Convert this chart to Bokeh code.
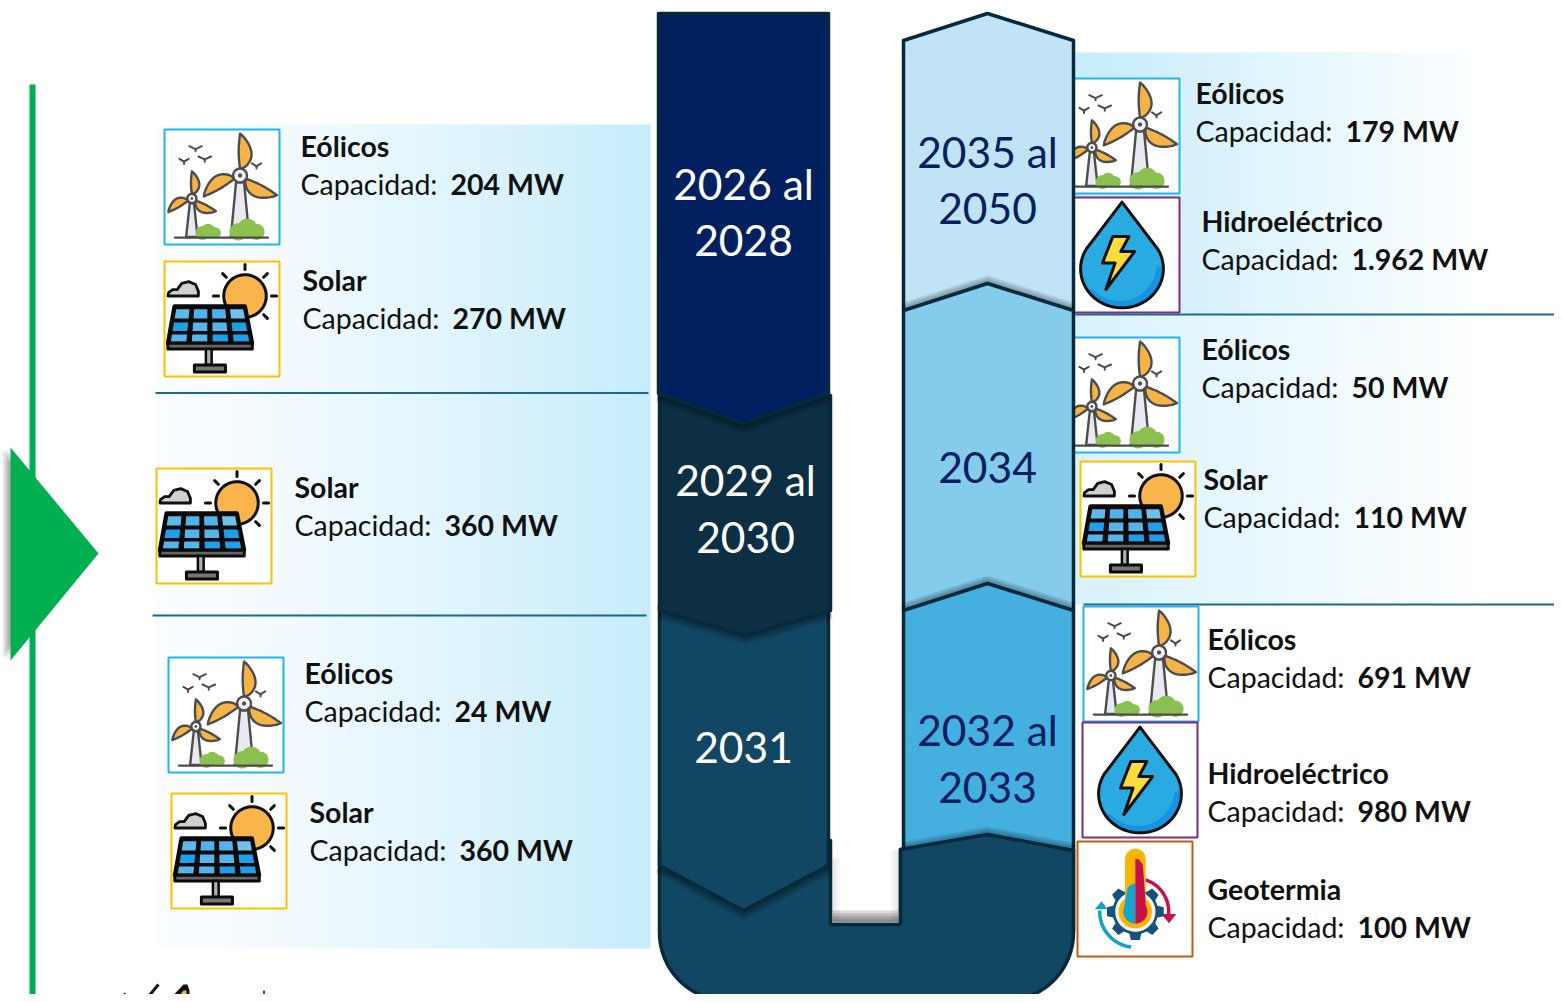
import numpy as np
from bokeh.plotting import figure
from bokeh.models import Range1d
from bokeh.core.properties import value
from bokeh.embed import file_html
from bokeh.resources import INLINE

# ---- content -------------------------------------------------------------
left_names = ["Eólicos", "Solar", "Solar", "Eólicos", "Solar"]
left_caps = [204, 270, 360, 24, 360]
right_names = ["Eólicos", "Hidroeléctrico", "Eólicos", "Solar", "Eólicos", "Hidroeléctrico", "Geotermia"]
right_caps = ["179", "1.962", "50", "110", "691", "980", "100"]
left_periods = [["2026 al", "2028"], ["2029 al", "2030"], ["2031"]]
right_periods = [["2035 al", "2050"], ["2034"], ["2032 al", "2033"]]

# ---- layout --------------------------------------------------------------
left_text_pos = [(300, 147), (302, 281), (294, 488), (304, 674), (309, 813)]
right_text_pos = [(1195, 94), (1201, 222), (1201, 350), (1203, 480), (1207, 640), (1207, 774), (1207, 890)]
left_year_pos = [(743, [184, 241]), (745, [480, 538]), (743, [748])]
right_year_pos = [(987, [152, 209]), (987, [468]), (987, [730, 788])]

C_EDGE = "#06293c"
C_BOTTOM = "#124763"
p = figure(width=1554, height=994, x_range=Range1d(0, 1554), y_range=Range1d(994, 0),
           output_backend="svg", toolbar_location=None, min_border=0,
           background_fill_color="white", border_fill_color="white", outline_line_color=None)
p.axis.visible = False
p.grid.visible = False


def poly(x, y, fill, line=None, lw=1.0, alpha=1.0):
    p.patch(list(x), list(y), fill_color=fill, fill_alpha=alpha, line_color=line, line_width=lw,
            line_join="round")


def seg(x, y, color, lw=1.0, alpha=1.0, cap="round"):
    p.line(list(x), list(y), line_color=color, line_width=lw, line_alpha=alpha, line_cap=cap, line_join="round")


def mix(a, b, t):
    a = np.array([int(a[i:i + 2], 16) for i in (1, 3, 5)], float)
    b = np.array([int(b[i:i + 2], 16) for i in (1, 3, 5)], float)
    c = a + (b - a) * t
    return "#%02x%02x%02x" % tuple(int(round(v)) for v in c)


def gradient(x0, x1, y0, y1, c0, c1, power=1.0):
    n = int((x1 - x0) / 4)
    xs = np.linspace(x0, x1, n + 1)
    cols = [mix(c0, c1, ((i + .5) / n) ** power) for i in range(n)]
    p.quad(left=xs[:-1], right=np.minimum(xs[1:] + 1, x1), top=[y0] * n, bottom=[y1] * n,
           fill_color=cols, line_color=None)


def shadow(x, y, reach=16):
    for w in np.linspace(reach, 3, 6):
        seg(x, y, "#000000", lw=float(w), alpha=0.07, cap="butt")


def mapper(bx, by, w, h):
    return (lambda u: bx + np.asarray(u, float) * w / 100.0), (lambda v: by + np.asarray(v, float) * h / 100.0)


def disc(cu, cv, r, a0=0, a1=360, n=48):
    t = np.radians(np.linspace(a0, a1, n))
    return cu + r * np.cos(t), cv + r * np.sin(t)


def box(bx, by, w, h, color):
    p.quad(left=[bx], right=[bx + w], top=[by], bottom=[by + h], fill_color="white",
           line_color=color, line_width=2)


def blade(X, Y, hu, hv, ang, r0, L, W):
    d = np.array([np.cos(np.radians(ang)), np.sin(np.radians(ang))])
    n = np.array([-d[1], d[0]])
    t = np.linspace(0, 1, 16)
    a = W * np.sin(np.pi * t ** 0.8) ** 0.8
    b = -0.12 * W * np.sin(np.pi * t)
    u1 = hu + d[0] * (r0 + L * t) + n[0] * a
    v1 = hv + d[1] * (r0 + L * t) + n[1] * a
    u2 = hu + d[0] * (r0 + L * t[::-1]) + n[0] * b[::-1]
    v2 = hv + d[1] * (r0 + L * t[::-1]) + n[1] * b[::-1]
    poly(X(np.r_[u1, u2]), Y(np.r_[v1, v2]), "#f5b445", "#4d4d4d", 2.4)


def turbine(X, Y, hu, hv, L, W, rh, tw0, tw1, base):
    poly(X([hu - tw0, hu + tw0, hu + tw1, hu - tw1]), Y([hv + rh, hv + rh, base, base]), "#e9e9f2", "#4d4d4d", 2.4)
    for a in (-90, 150, 28):
        blade(X, Y, hu, hv, a, rh * .9, L, W)
    u, v = disc(hu, hv, rh)
    poly(X(u), Y(v), "#f1f1f6", "#4d4d4d", 2.4)
    u, v = disc(hu, hv, rh * .3)
    poly(X(u), Y(v), "#4d4d4d")


def icon_wind(bx, by, w=115, h=115, color="#1fb5ee"):
    box(bx, by, w, h, color)
    X, Y = mapper(bx, by, w, h)
    turbine(X, Y, 23.8, 60, 20, 6.5, 4, 1.8, 5, 93.5)
    turbine(X, Y, 65.7, 40, 31, 10, 6, 3.5, 8, 93.5)
    for cu, cv, r in ((33, 90, 6), (38, 88, 6), (44, 90, 5), (64, 89, 7.5), (72, 86, 8.5), (80, 89, 7)):
        u, v = disc(cu, cv, r)
        poly(X(u), Y(v), "#8cc152")
    seg(X([9, 90]), Y([94, 94]), "#4d4d4d", 2.2)
    for cu, cv, s in ((27, 16, 5.5), (35, 25, 5.5), (17, 27, 4), (80, 31, 4)):
        seg(X([cu - s, cu, cu + s]), Y([cv - 1.5, cv + 1, cv - 1.5]), "#4d4d4d", 2)
        seg(X([cu, cu]), Y([cv + 1, cv + 3]), "#4d4d4d", 2)


def icon_solar(bx, by, w=115, h=115, color="#ffc000"):
    box(bx, by, w, h, color)
    X, Y = mapper(bx, by, w, h)
    for a in (-90, -45, 0, 45, 180, -135):
        t = np.radians(a)
        seg(X([70 + 23 * np.cos(t), 70 + 27.5 * np.cos(t)]), Y([30 + 23 * np.sin(t), 30 + 27.5 * np.sin(t)]), "#111111", 3)
    u, v = disc(70, 30, 18.5)
    poly(X(u), Y(v), "#f9b54c", "#111111", 3)
    cu = [3, 3.5, 7, 11, 15, 21, 27, 29.5, 29.5, 3]
    cv = [30, 27, 24.5, 24.5, 19, 17.5, 20, 26, 30, 30]
    poly(X(cu), Y(cv), "#d0d0d0", "#111111", 2.8)
    poly(X([8.6, 70, 76.3, 2.9]), Y([39, 39, 71, 71]), "#0a0a0a", "#0a0a0a", 4)
    cols = [["#5fb8ea", "#4fb2ea", "#4fb2ea", "#6fc0ea"],
            ["#1f9fe9", "#55b5ea", "#55b5ea", "#1f9fe9"],
            ["#55b5ea", "#55b5ea", "#1f9fe9", "#1f9fe9"]]
    rows_v = [(41.5, 49.5), (53, 60.5), (63.5, 69.5)]
    for r, (v0, v1) in enumerate(rows_v):
        f0 = (v0 - 39) / 32.0
        f1 = (v1 - 39) / 32.0
        for c in range(4):
            l0, r0 = 8.6 - 5.7 * f0, 70 + 6.3 * f0
            l1, r1 = 8.6 - 5.7 * f1, 70 + 6.3 * f1
            a0, a1 = (c + .13) / 4, (c + .87) / 4
            poly(X([l0 + (r0 - l0) * a0, l0 + (r0 - l0) * a1, l1 + (r1 - l1) * a1, l1 + (r1 - l1) * a0]),
                 Y([v0, v0, v1, v1]), cols[r][c])
    poly(X([2.9, 76.3, 76.3, 2.9]), Y([71, 71, 76, 76]), "#666666", "#0a0a0a", 3)
    poly(X([36, 41, 41, 36]), Y([76, 76, 90, 90]), "#b0b0b0", "#0a0a0a", 2.5)
    poly(X([26, 53, 53, 26]), Y([90, 90, 96, 96]), "#777777", "#0a0a0a", 3)


def icon_drop(bx, by, w=115, h=115, color="#7b2c7f"):
    box(bx, by, w, h, color)
    X, Y = mapper(bx, by, w, h)
    cu, cv = 50, 62
    ru, rv = 36, 34
    t = np.radians(np.linspace(-30, 210, 50))
    u = np.r_[50, cu + ru * np.cos(t), 50]
    v = np.r_[4, cv + rv * np.sin(t), 4]
    poly(X(u), Y(v), "#29abe2")
    t2 = np.radians(np.linspace(-5, 150, 30))
    t3 = np.radians(np.linspace(135, 5, 30))
    poly(X(np.r_[cu + ru * np.cos(t2), cu - 2 + (ru - 4) * np.cos(t3)]),
         Y(np.r_[cv + rv * np.sin(t2), cv - 4 + (rv - 2) * np.sin(t3)]), "#1793e3")
    seg(X(u), Y(v), "#111111", 3)
    bu = [42, 56, 49, 61, 36, 44, 33]
    bv = [34, 34, 47, 47, 80, 57, 57]
    poly(X(bu), Y(bv), "#ffdb3b", "#111111", 3)


def icon_geo(bx, by, w=115, h=115, color="#c55a11"):
    box(bx, by, w, h, color)
    X, Y = mapper(bx, by, w, h)
    cu, cv = 50.3, 61
    u, v = disc(cu, cv, 29, -72, 8, 20)
    seg(X(u), Y(v), "#c8104e", 3.5, cap="butt")
    poly(X([73, 86, 79.5]), Y([63, 63, 71]), "#c8104e")
    u, v = disc(cu, cv, 31, 97, 182, 20)
    seg(X(u), Y(v), "#15a0c8", 3.5, cap="butt")
    poly(X([15, 26, 21]), Y([59, 59, 52]), "#15a0c8")
    n = 8
    ang, rad = [], []
    for i in range(n):
        a = 360.0 * i / n
        ang += [a - 15, a - 9, a + 9, a + 15]
        rad += [20, 25, 25, 20]
    ang = np.radians(ang)
    rad = np.array(rad)
    poly(X(cu + rad * np.cos(ang)), Y(cv + rad * np.sin(ang)), "#17527a")
    u, v = disc(cu, cv, 17.5)
    poly(X(u), Y(v), "#f2f2f2")
    u, v = disc(cu, cv, 14.5)
    poly(X(u), Y(v), "#ffb400")
    t = np.radians(np.linspace(180, 360, 20))
    poly(X(np.r_[cu - 9, cu + 9 * np.cos(t), cu + 9]), Y(np.r_[58, 15.3 + 9 * np.sin(t), 58]), "#ffb400")
    u, v = disc(cu, cv, 10.5, 90, 200, 14)
    u2, v2 = disc(cu, 44, 7.5, 180, 270, 10)
    poly(X(np.r_[cu, u, u2, cu]), Y(np.r_[cv + 10.5, v, v2, cv + 10.5]), "#15a6cf")
    u, v = disc(cu, cv, 10.5, -30, 90, 14)
    poly(X(np.r_[cu, cu, cu + 3, cu + 6.5, u, cu]), Y(np.r_[cv + 10.5, 15, 15.5, 20, v, cv + 10.5]), "#c8104e")


# ---- backgrounds ---------------------------------------------------------
gradient(155, 650, 124, 948, "#fbfdff", "#c6ecfb", 1.3)
gradient(1075, 1490, 52, 313, "#c6ecfb", "#ffffff")
gradient(1075, 1490, 313, 604, "#d8f2fc", "#ffffff")

# ---- green bar and separators --------------------------------------------
p.quad(left=[29], right=[35], top=[84], bottom=[1002], fill_color="#00b050", line_color=None)
for x0, x1, y in ((155, 648, 392.5), (152, 646, 615), (1075, 1562, 314), (1083, 1562, 604)):
    seg([x0, x1], [y, y], "#1b6a8c", 2, cap="butt")

# ---- icons ---------------------------------------------------------------
icon_wind(164, 129)
icon_solar(164, 261)
icon_solar(156, 468)
icon_wind(168, 657)
icon_solar(171, 793)
icon_wind(1064, 78)
icon_drop(1064, 197)
icon_wind(1064, 337)
icon_solar(1080, 461)
icon_wind(1083, 606)
icon_drop(1082, 722)
icon_geo(1077, 841)

# ---- row texts -----------------------------------------------------------
FONT = value("Lato")
FS = "28.5px"


def rows(names, caps, pos):
    xs = [a for a, _ in pos]
    ys = [b for _, b in pos]
    p.text(xs, [y - 2 for y in ys], text=names, text_font=FONT, text_font_size=FS, text_font_style="bold",
           text_color="#111111", text_baseline="alphabetic")
    p.text(xs, [y + 36.5 for y in ys], text=["Capacidad:"] * len(xs), text_font=FONT, text_font_size=FS,
           text_color="#111111", text_baseline="alphabetic")
    p.text([x + 150 for x in xs], [y + 36.5 for y in ys], text=[f"{c} MW" for c in caps], text_font=FONT,
           text_font_size=FS, text_font_style="bold", text_color="#111111", text_baseline="alphabetic")


rows(left_names, left_caps, left_text_pos)
rows(right_names, right_caps, right_text_pos)

# ---- ribbon (bottom first) -----------------------------------------------
t1 = np.radians(np.linspace(180, 90, 24))
t2 = np.radians(np.linspace(90, 0, 24))
R = 68
ux = np.r_[659, 659 + R + R * np.cos(t1), 1073 - R + R * np.cos(t2), 1073, 987, 900, 900, 830, 830]
uy = np.r_[840, 1000 - R + R * np.sin(t1), 1000 - R + R * np.sin(t2), 850, 834, 849, 924, 924, 840]
poly(ux, uy, C_BOTTOM, C_EDGE, 3.5)
for w in (12, 9, 6, 3):
    seg([832, 898], [922 - w / 2, 922 - w / 2], "#000000", w, 0.14, "butt")
for w in (8, 5, 2):
    seg([898 - w / 2, 898 - w / 2], [850, 920], "#000000", w, 0.03, "butt")
    seg([832 + w / 2, 832 + w / 2], [858, 920], "#000000", w, 0.03, "butt")

# left column
segs_left = [
    ([659, 828, 828, 743, 659], [605, 605, 865, 910, 865], C_BOTTOM),
    ([659, 830, 830, 745, 659], [395, 395, 610, 635, 610], "#0c2f44"),
    ([658, 828, 828, 743, 658], [13, 13, 393, 423, 393], "#002060"),
]
for x, y, c in segs_left:
    shadow(x[2:], y[2:], 18)
    poly(x, y, c, C_EDGE, 3.5)

# right column, upper segments below, lower segments on top
segs_right = [
    ([903, 987, 1073, 1073, 903], [40, 13, 40, 310, 310], "#c0e4f5", False),
    ([903, 987, 1073, 1073, 903], [310, 283, 310, 610, 610], "#84cbec", True),
    ([903, 987, 1073, 1073, 903], [610, 583, 610, 850, 850], "#45afe0", True),
]
for x, y, c, cast in segs_right:
    if cast:
        shadow(x[:3], y[:3], 16)
    poly(x, y, c, C_EDGE, 3.5)
shadow([903, 987, 1073], [849, 834, 850], 16)
poly([900, 987, 1073, 1073, 900], [849, 834, 850, 925, 925], C_BOTTOM, None)
seg([900, 987, 1073], [849, 834, 850], C_EDGE, 3.5)
seg([1073, 1073], [850, 930], C_EDGE, 3.5, cap="butt")
seg([900, 900], [849, 924], C_EDGE, 3.5, cap="butt")

# ---- year labels ---------------------------------------------------------
for labels, (x, ys) in zip(left_periods, left_year_pos):
    p.text([x] * len(ys), [y - 1.5 for y in ys], text=labels, text_font=FONT, text_font_size="42.5px", text_color="white",
           text_align="center", text_baseline="middle")
for labels, (x, ys) in zip(right_periods, right_year_pos):
    p.text([x] * len(ys), [y - 1.5 for y in ys], text=labels, text_font=FONT, text_font_size="42.5px", text_color="#002060",
           text_align="center", text_baseline="middle")

# ---- green arrow ---------------------------------------------------------
for dx in (8, 6.5, 5, 3.5, 2):
    poly([10 - dx, 60, 10 - dx], [449, 553, 658], "#000000", None, alpha=0.07)
poly([10, 98, 10], [447, 553, 660], "#00b050")

# ---- cropped logo and rule at the bottom edge ----------------------------
seg([118, 125], [1002, 993], "#111111", 3, cap="butt")
seg([143, 158], [1002, 984], "#111111", 3, cap="butt")
poly([166, 183, 187, 189, 189, 160], [1002, 984, 984, 990, 1002, 1002], "#111111")
poly([174, 183, 186, 186], [1002, 990, 990, 1002], "#f5b445")
seg([263.5, 263.5], [990, 1002], "#1b6a8c", 2, cap="butt")

open("out.html", "w").write(file_html(p, INLINE))
